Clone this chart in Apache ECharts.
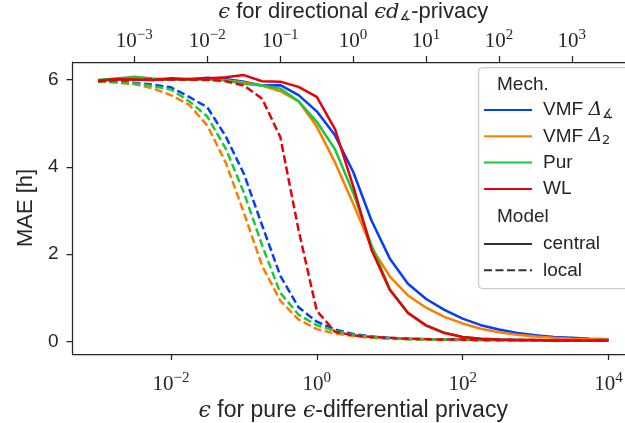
<!DOCTYPE html>
<html><head><meta charset="utf-8">
<script src="https://cdn.jsdelivr.net/npm/echarts@6/dist/echarts.min.js"></script>
<style>html,body{margin:0;padding:0;background:#fff}#c{width:625px;height:423px}</style>
</head><body><div id="c"></div>
<script>
// x sample points: epsilon for pure eps-DP
const eps = [0.001, 0.001778, 0.003162, 0.005623, 0.01, 0.01778, 0.03162, 0.05623, 0.1, 0.1778, 0.3162, 0.5623, 1, 1.778, 3.162, 5.623, 10, 17.78, 31.62, 56.23, 100, 177.8, 316.2, 562.3, 1000, 1778, 3162, 5623, 10000];
// central model
const vmfAngC = [5.97, 6.00, 6.00, 5.99, 6.03, 6.00, 6.04, 6.01, 5.95, 5.86, 5.87, 5.64, 5.27, 4.72, 3.88, 2.77, 1.90, 1.32, 0.97, 0.72, 0.52, 0.37, 0.27, 0.19, 0.14, 0.10, 0.08, 0.06, 0.05];
const vmf2C   = [5.98, 6.01, 6.03, 6.00, 6.00, 6.01, 6.00, 5.98, 5.93, 5.86, 5.73, 5.50, 4.92, 4.10, 3.15, 2.15, 1.49, 1.05, 0.77, 0.56, 0.41, 0.29, 0.21, 0.15, 0.11, 0.08, 0.06, 0.05, 0.04];
const purC    = [5.99, 6.02, 6.06, 6.02, 6.00, 5.99, 6.01, 5.98, 5.90, 5.86, 5.79, 5.50, 5.03, 4.40, 3.40, 2.20, 1.20, 0.66, 0.37, 0.20, 0.10, 0.06, 0.04, 0.03, 0.03, 0.02, 0.02, 0.02, 0.02];
const wlC     = [5.97, 6.01, 6.00, 5.99, 6.01, 6.01, 6.02, 6.05, 6.10, 5.96, 5.95, 5.83, 5.60, 4.86, 3.55, 2.10, 1.18, 0.65, 0.36, 0.19, 0.10, 0.06, 0.04, 0.03, 0.03, 0.02, 0.02, 0.02, 0.02];
// local model
const vmfAngL = [5.97, 5.95, 5.92, 5.88, 5.82, 5.60, 5.36, 4.70, 3.84, 2.66, 1.50, 0.78, 0.45, 0.27, 0.17, 0.11, 0.08, 0.06, 0.05, 0.04, 0.04, 0.03, 0.03, 0.03, 0.02, 0.02, 0.02, 0.02, 0.02];
const vmf2L   = [5.95, 5.93, 5.89, 5.80, 5.64, 5.42, 4.94, 4.10, 2.95, 1.73, 0.93, 0.50, 0.28, 0.18, 0.12, 0.08, 0.06, 0.05, 0.04, 0.03, 0.03, 0.03, 0.02, 0.02, 0.02, 0.02, 0.02, 0.02, 0.02];
const purL    = [5.96, 5.94, 5.91, 5.85, 5.77, 5.50, 5.15, 4.42, 3.41, 2.20, 1.11, 0.61, 0.37, 0.24, 0.15, 0.10, 0.07, 0.05, 0.04, 0.04, 0.03, 0.03, 0.03, 0.02, 0.02, 0.02, 0.02, 0.02, 0.02];
const wlL     = [5.96, 5.98, 5.99, 6.00, 6.00, 6.00, 5.99, 5.96, 5.86, 5.56, 4.68, 2.55, 0.70, 0.22, 0.14, 0.10, 0.08, 0.06, 0.05, 0.04, 0.04, 0.03, 0.03, 0.03, 0.03, 0.02, 0.02, 0.02, 0.02];
// tick labels
const bottomTicks = [0.01, 1, 100, 10000];
const topTicks = [0.001, 0.01, 0.1, 1, 10, 100, 1000];
const yTicks = [0, 2, 4, 6];
const mechNames = ['VMF Δ∡', 'VMF Δ2', 'Pur', 'WL'];
const modelNames = ['central', 'local'];

const SANS = 'Liberation Sans, Arial, Helvetica, sans-serif';
const SERIF = 'Liberation Serif, DejaVu Serif, serif';
const AX = '#262626';
const DASH = [8, 3.5];
const LW = 2.5;
const mechs = [
  {name: mechNames[0], color: '#023eff', c: vmfAngC, l: vmfAngL},
  {name: mechNames[1], color: '#ff7c00', c: vmf2C, l: vmf2L},
  {name: mechNames[2], color: '#1ac938', c: purC, l: purL},
  {name: mechNames[3], color: '#e8000b', c: wlC, l: wlL}
];
const series = [];
mechs.forEach(m => {
  series.push({type: 'line', name: m.name, data: eps.map((e, i) => [e, m.c[i]]), symbol: 'none', color: m.color,
    lineStyle: {width: LW, color: m.color, type: 'solid'}, animation: false, z: 2});
  series.push({type: 'line', name: m.name, data: eps.map((e, i) => [e, m.l[i]]), symbol: 'none', color: m.color,
    lineStyle: {width: LW, color: m.color, type: DASH}, animation: false, z: 2});
});
series.push({type: 'line', name: 'central', data: [], symbol: 'none', color: '#333333', lineStyle: {width: LW, color: '#333333', type: 'solid'}});
series.push({type: 'line', name: 'local', data: [], symbol: 'none', color: '#333333', lineStyle: {width: LW, color: '#333333', type: DASH}});

function expLabel(v) {
  const e = Math.round(Math.log10(v));
  return '{b|10}{s|' + (e < 0 ? '\u2212' + (-e) : String(e)) + '}';
}
const tickRich = {
  b: {fontFamily: SERIF, fontSize: 21, color: AX},
  s: {fontFamily: SERIF, fontSize: 15, color: AX, padding: [0, 0, 11, 0]}
};
const nameRich = {
  e: {fontFamily: 'DejaVu Serif, serif', fontStyle: 'italic', fontSize: 21, color: AX},
  sub: {fontFamily: 'DejaVu Sans, sans-serif', fontSize: 13, color: AX, padding: [9, 0, 0, 0]}
};
const nameRichB = {
  e: {fontFamily: 'DejaVu Serif, serif', fontStyle: 'italic', fontSize: 22, color: AX}
};
const legendRich = {
  d: {fontFamily: 'DejaVu Serif, serif', fontStyle: 'italic', fontSize: 19, color: AX},
  sub: {fontFamily: 'DejaVu Sans, sans-serif', fontSize: 13, color: AX, padding: [9, 0, 0, 0]}
};
const legendFmt = {
  'VMF Δ∡': 'VMF {d|Δ}{sub|∡}',
  'VMF Δ2': 'VMF {d|Δ}{sub|2}'
};
const xMinLog = 0.0004467, xMaxLog = 22387;
const axisLine = {show: true, onZero: false, lineStyle: {color: AX, width: 1.25}};
const axisTick = {show: true, length: 6, lineStyle: {color: AX, width: 1.25}};

const option = {
  backgroundColor: '#ffffff',
  animation: false,
  grid: {left: 72.5, top: 62, bottom: 69, right: -9, containLabel: false, outerBoundsMode: 'none'},
  xAxis: [
    {type: 'log', position: 'bottom', min: xMinLog, max: xMaxLog, splitLine: {show: false},
      axisLine: axisLine, axisTick: Object.assign({customValues: bottomTicks}, axisTick),
      axisLabel: {customValues: bottomTicks, formatter: expLabel, rich: tickRich, margin: 17},
      name: '{e|ϵ} for pure {e|ϵ}-differential privacy', nameLocation: 'middle', nameGap: 43,
      nameTextStyle: {fontFamily: SANS, fontSize: 23, color: AX, rich: nameRichB}},
    {type: 'log', position: 'top', min: xMinLog / Math.PI, max: xMaxLog / Math.PI, splitLine: {show: false},
      axisLine: axisLine, axisTick: Object.assign({customValues: topTicks}, axisTick),
      axisLabel: {customValues: topTicks, formatter: expLabel, rich: tickRich, margin: 8},
      name: '{e|ϵ} for directional {e|ϵd}{sub|∡}-privacy', nameLocation: 'middle', nameGap: 31,
      nameTextStyle: {fontFamily: SANS, fontSize: 22, color: AX, rich: nameRich}}
  ],
  yAxis: {type: 'value', min: -0.29, max: 6.40, splitLine: {show: false},
    axisLine: axisLine, axisTick: Object.assign({customValues: yTicks}, axisTick),
    axisLabel: {customValues: yTicks, fontFamily: SANS, fontSize: 19, color: AX, margin: 14},
    name: 'MAE [h]', nameLocation: 'middle', nameGap: 36,
    nameTextStyle: {fontFamily: SANS, fontSize: 22, color: AX}},
  legend: [
    {data: mechNames, orient: 'vertical', left: 483, top: 99, padding: 0, itemWidth: 48, itemHeight: 14, itemGap: 4.3,
      selectedMode: false, formatter: n => legendFmt[n] || n, itemStyle: {opacity: 0},
      textStyle: {fontFamily: SANS, fontSize: 19, color: AX, lineHeight: 22, padding: [0, 0, 0, 6], rich: legendRich}, z: 5},
    {data: modelNames, orient: 'vertical', left: 483, top: 233, padding: 0, itemWidth: 48, itemHeight: 14, itemGap: 4.3,
      selectedMode: false, itemStyle: {opacity: 0},
      textStyle: {fontFamily: SANS, fontSize: 19, color: AX, lineHeight: 22, padding: [0, 0, 0, 6]}, z: 5}
  ],
  graphic: [
    {type: 'rect', left: 478, top: 67, shape: {width: 170, height: 221, r: 4},
      style: {fill: 'rgba(255,255,255,0.8)', stroke: '#cccccc', lineWidth: 1.2}, z: 3},
    {type: 'text', left: 497, top: 75, style: {text: 'Mech.', font: '19px ' + SANS, fill: AX}, z: 5},
    {type: 'text', left: 497, top: 207, style: {text: 'Model', font: '19px ' + SANS, fill: AX}, z: 5}
  ],
  series: series
};
const chart = echarts.init(document.getElementById('c'));
chart.setOption(option);
</script>
</body></html>
